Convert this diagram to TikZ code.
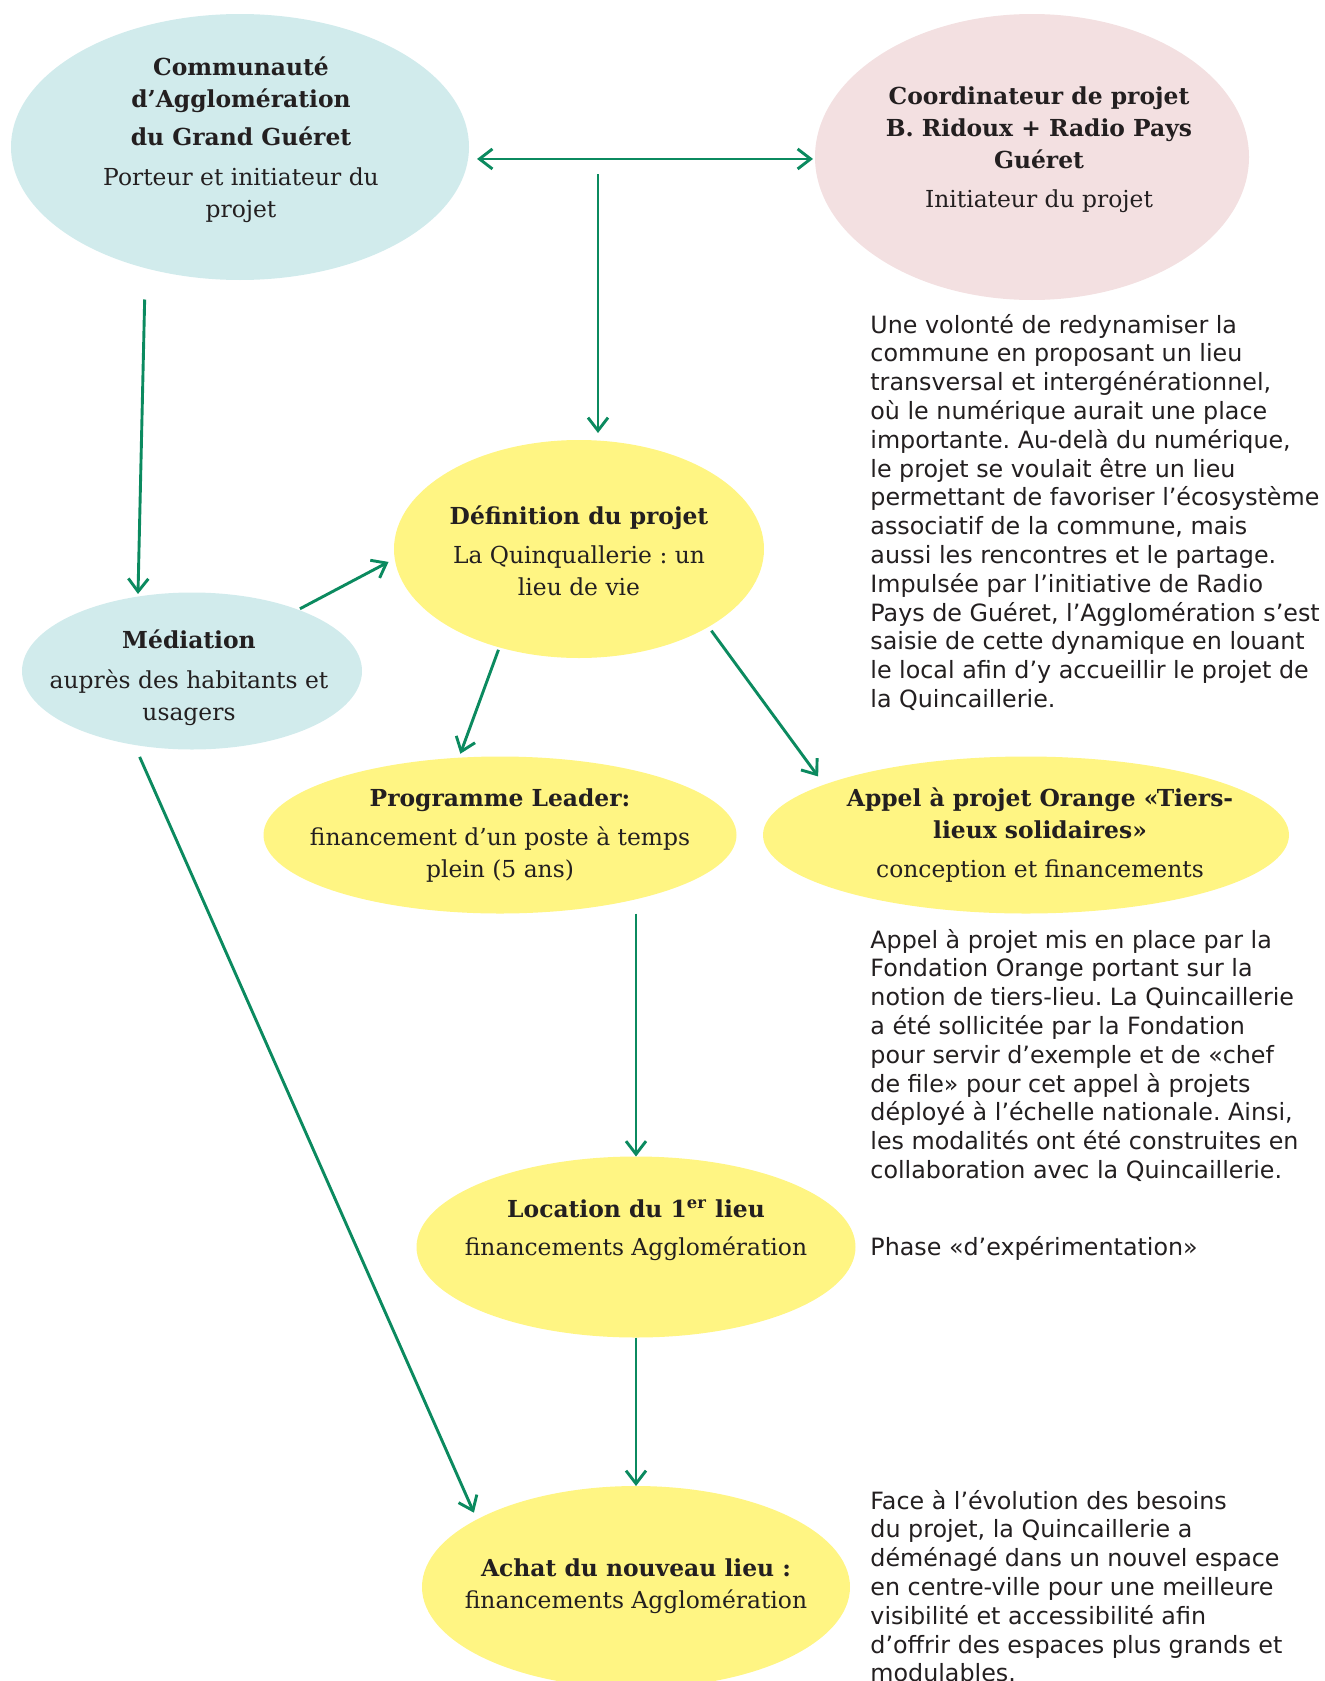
\documentclass[tikz,border=0pt]{standalone}
\usepackage{fontspec}
\setmainfont{DejaVu Sans}
\newfontfamily\slabfont{DejaVu Serif}
\usepackage{tikz}
\usetikzlibrary{arrows.meta,shapes.geometric}
\frenchspacing

\definecolor{agglo}{HTML}{D1EBEC}
\definecolor{coord}{HTML}{F3E0E1}
\definecolor{projet}{HTML}{FFF583}
\definecolor{fleche}{HTML}{0B8A5F}
\definecolor{encre}{HTML}{231F20}

\begin{document}
\begin{tikzpicture}[x=0.5pt, y=-0.5pt,
    >={Straight Barb[length=6.5pt,width=10pt]},
    bulle/.style={ellipse, inner sep=0pt, outer sep=0pt},
    titre/.style={anchor=base, align=center, inner sep=0pt, text=encre,
      font=\slabfont\fontsize{11.7pt}{16pt}\selectfont},
    texte/.style={anchor=base west, align=left, inner sep=0pt, text=encre,
      font=\fontsize{11.9pt}{14.4pt}\selectfont},
    fl/.style={->, draw=fleche, line width=1.45pt}]

        \useasboundingbox (0,0) rectangle (1325,1681);

        %Ellipses
        \node [bulle, fill=agglo, minimum width=229pt, minimum height=133pt] (cagg) at (240,147) {};
        \node [bulle, fill=coord, minimum width=217pt, minimum height=143pt] (coordo) at (1032,157) {};
        \node [bulle, fill=projet, minimum width=185pt, minimum height=109pt] (defin) at (579,549) {};
        \node [bulle, fill=agglo, minimum width=170pt, minimum height=78.5pt] (media) at (192,671) {};
        \node [bulle, fill=projet, minimum width=236.5pt, minimum height=78.5pt] (leader) at (500,835) {};
        \node [bulle, fill=projet, minimum width=263pt, minimum height=78.5pt] (orange) at (1026,835) {};
        \node [bulle, fill=projet, minimum width=219.5pt, minimum height=90.5pt] (loc) at (636,1247) {};
        \node [bulle, fill=projet, minimum width=214pt, minimum height=101pt] (achat) at (636,1587) {};

        %Titres (base = derniere ligne)
        \node [titre] (cagg-t) at (241,217) {\bfseries Communauté\\\bfseries d’Agglomération\\[3pt]
          \bfseries du Grand Guéret\\[4pt]Porteur et initiateur du\\projet};
        \node [titre] (coordo-t) at (1039,207) {\bfseries Coordinateur de projet\\\bfseries B. Ridoux + Radio Pays\\
          \bfseries Guéret\\[3.5pt]Initiateur du projet};
        \node [titre] (defin-t) at (579,595) {\bfseries Définition du projet\\[3.5pt]La Quinquallerie : un\\lieu de vie};
        \node [titre] (media-t) at (189,720) {\bfseries Médiation\\[4pt]auprès des habitants et\\usagers};
        \node [titre] (leader-t) at (500,877) {\bfseries Programme Leader:\\[3.5pt]financement d’un poste à temps\\plein (5 ans)};
        \node [titre] (orange-t) at (1040,877) {\bfseries Appel à projet Orange «Tiers-\\\bfseries lieux solidaires»\\[3.5pt]
          conception et financements};
        \node [titre] (loc-t) at (636,1255) {\bfseries Location du 1\textsuperscript{er} lieu\\[3pt]financements Agglomération};
        \node [titre] (achat-t) at (636,1608) {\bfseries Achat du nouveau lieu :\\financements Agglomération};

        %Textes (base = derniere ligne)
        \node [texte] (volonte) at (870,707.4) {Une volonté de redynamiser la\\
          commune en proposant un lieu\\
          transversal et intergénérationnel,\\
          où le numérique aurait une place\\
          importante. Au-delà du numérique,\\
          le projet se voulait être un lieu\\
          permettant de favoriser l’écosystème\\
          associatif de la commune, mais\\
          aussi les rencontres et le partage.\\
          Impulsée par l’initiative de Radio\\
          Pays de Guéret, l’Agglomération s’est\\
          saisie de cette dynamique en louant\\
          le local afin d’y accueillir le projet de\\
          la Quincaillerie.};
        \node [texte] (appel) at (870,1178.4) {Appel à projet mis en place par la\\
          Fondation Orange portant sur la\\
          notion de tiers-lieu. La Quincaillerie\\
          a été sollicitée par la Fondation\\
          pour servir d’exemple et de «chef\\
          de file» pour cet appel à projets\\
          déployé à l’échelle nationale. Ainsi,\\
          les modalités ont été construites en\\
          collaboration avec la Quincaillerie.};
        \node [texte] (phase) at (870,1255) {Phase «d’expérimentation»};
        \node [texte] (besoins) at (870,1681.8) {Face à l’évolution des besoins\\
          du projet, la Quincaillerie a\\
          déménagé dans un nouvel espace\\
          en centre-ville pour une meilleure\\
          visibilité et accessibilité afin\\
          d’offrir des espaces plus grands et\\
          modulables.};

        %Fleches
        \coordinate (jonction) at (598,174);
        \draw [fl, <->, shorten <=4.5pt, shorten >=1pt] (cagg.-3.5) -- (cagg.-3.5 -| coordo.west);
        \draw [fl, shorten >=3.5pt] (jonction) -- (jonction |- defin.north);
        \draw [fl, shorten <=15.7pt, shorten >=1.3pt] (cagg.232.6) -- (media.126.1);
        \draw [fl, shorten <=1pt, shorten >=3.5pt] (media.30.8) -- (defin.183.7);
        \draw [fl, shorten <=6.6pt, shorten >=3.7pt] (media.232.2) -- (achat.157.2);
        \draw [fl, shorten <=1.3pt, shorten >=2.1pt] (defin.231.3) -- (leader.118);
        \draw [fl, shorten <=2.4pt, shorten >=5.1pt] (defin.-31.9) -- (orange.166);
        \draw [fl] (leader.south -| loc.north) -- (loc.north);
        \draw [fl] (loc.south) -- (achat.north);
\end{tikzpicture}
\end{document}
